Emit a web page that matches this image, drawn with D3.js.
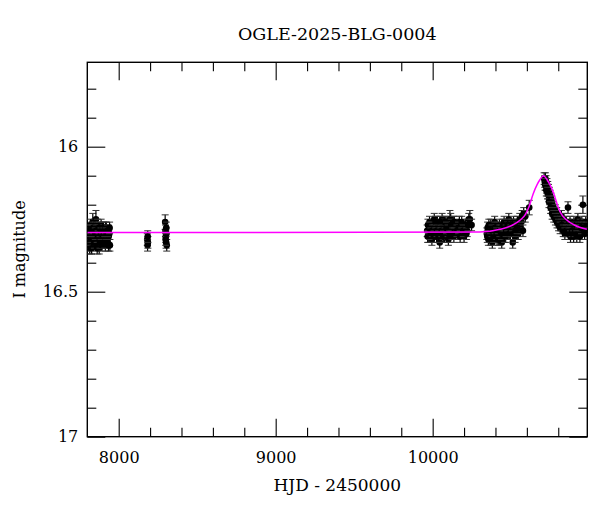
<!DOCTYPE html>
<html>
<head>
<meta charset="utf-8">
<script src="https://cdn.jsdelivr.net/npm/d3@7"></script>
<style>
  body { margin: 0; background: #fff; }
  text { font-family: "DejaVu Serif", serif; fill: #000; }
</style>
</head>
<body>
<div id="chart"></div>
<script>
// Data (HJD - 2450000, I mag, error)
const title = "OGLE-2025-BLG-0004";
const xLabel = "HJD - 2450000";
const yLabel = "I magnitude";
const xDomain = [7800, 10985];
const yDomain = [15.709, 17];
const xMajor = [8000, 9000, 10000];
const yMajor = [16, 16.5, 17];

// season 1
const season1 = [
  [7806,16.31,.02],[7809,16.33,.02],[7812,16.29,.02],[7815,16.35,.02],[7818,16.30,.02],
  [7820,16.27,.02],[7823,16.32,.02],[7826,16.34,.03],[7829,16.28,.02],[7832,16.31,.02],
  [7835,16.26,.03],[7838,16.33,.02],[7841,16.30,.02],[7843,16.29,.02],[7846,16.27,.02],
  [7849,16.32,.02],[7852,16.28,.02],[7855,16.25,.03],[7858,16.34,.02],[7861,16.30,.02],
  [7864,16.27,.02],[7867,16.33,.02],[7870,16.29,.02],[7873,16.31,.02],[7876,16.35,.02],
  [7879,16.28,.02],[7882,16.30,.02],[7885,16.32,.02],[7888,16.27,.02],[7891,16.31,.02],
  [7894,16.29,.02],[7897,16.33,.02],[7900,16.30,.02],[7903,16.28,.02],[7906,16.32,.02],
  [7909,16.29,.02],[7912,16.31,.02],[7915,16.34,.02],[7918,16.30,.02],[7921,16.28,.02],
  [7924,16.32,.02],[7927,16.30,.02],[7930,16.33,.02],[7933,16.29,.02],[7936,16.31,.02],
  [7940,16.30,.02],[7944,16.34,.02],
  [7804,16.29,.02],[7811,16.34,.02],[7817,16.32,.02],[7822,16.29,.02],[7828,16.35,.02],
  [7833,16.29,.02],[7839,16.28,.02],[7845,16.33,.02],[7851,16.30,.02],[7857,16.29,.02],
  [7863,16.35,.02],[7869,16.31,.02],[7875,16.28,.02],[7881,16.33,.02],[7887,16.30,.02],
  [7893,16.34,.02],[7899,16.28,.02],[7905,16.30,.02],[7911,16.33,.02],[7917,16.28,.02],
  [7923,16.30,.02],[7929,16.29,.02],[7935,16.34,.02],[7942,16.28,.02]
];
// two short runs
const season2 = [
  [8182,16.32,.02],[8184,16.34,.02],[8186,16.33,.02],[8185,16.31,.02],
  [8296,16.26,.025],[8298,16.29,.02],[8300,16.31,.02],[8302,16.33,.02],
  [8304,16.30,.02],[8306,16.34,.02],[8303,16.28,.02],[8299,16.32,.02]
];
// season 2022-23
const season3 = [
  [9965,16.29,.02],[9970,16.27,.02],[9975,16.31,.02],[9980,16.26,.02],[9985,16.30,.02],
  [9990,16.28,.02],[9995,16.32,.02],[10000,16.27,.02],[10005,16.29,.02],[10010,16.25,.02],
  [10015,16.30,.02],[10020,16.28,.02],[10025,16.31,.02],[10030,16.26,.02],[10035,16.29,.02],
  [10040,16.27,.02],[10045,16.33,.02],[10050,16.28,.02],[10055,16.30,.02],[10060,16.25,.02],
  [10065,16.29,.02],[10070,16.27,.02],[10075,16.31,.02],[10080,16.28,.02],[10085,16.26,.02],
  [10090,16.30,.02],[10095,16.28,.02],[10100,16.32,.02],[10105,16.27,.02],[10110,16.25,.03],
  [10115,16.25,.02],[10120,16.30,.02],[10125,16.28,.02],[10130,16.26,.02],[10135,16.31,.02],
  [10140,16.28,.02],[10145,16.29,.02],[10150,16.27,.02],[10160,16.30,.02],[10170,16.26,.02],
  [10180,16.29,.02],[10190,16.28,.02],[10200,16.31,.02],[10210,16.27,.02],[10220,16.29,.02],
  [10230,16.25,.02],[10237,16.25,.03],[10248,16.27,.02],
  [9968,16.31,.02],[9978,16.28,.02],[9988,16.30,.02],[9998,16.29,.02],[10008,16.31,.02],
  [10018,16.26,.02],[10028,16.29,.02],[10038,16.31,.02],[10048,16.26,.02],[10058,16.29,.02],
  [10068,16.31,.02],[10078,16.26,.02],[10088,16.28,.02],[10098,16.29,.02],[10108,16.31,.02],
  [10118,16.27,.02],[10128,16.30,.02],[10138,16.26,.02],[10155,16.29,.02],[10165,16.28,.02],
  [10175,16.31,.02],[10185,16.26,.02],[10195,16.29,.02],[10215,16.30,.02],[10225,16.27,.02]
];
// season 2024
const season4 = [
  [10345,16.30,.02],[10350,16.28,.02],[10355,16.32,.02],[10360,16.29,.02],[10365,16.31,.02],
  [10370,16.27,.02],[10375,16.30,.02],[10380,16.33,.02],[10385,16.28,.02],[10390,16.30,.02],
  [10395,16.26,.02],[10400,16.31,.02],[10405,16.29,.02],[10410,16.32,.02],[10415,16.28,.02],
  [10420,16.30,.02],[10425,16.27,.02],[10430,16.31,.02],[10435,16.29,.02],[10440,16.33,.02],
  [10445,16.28,.02],[10450,16.30,.02],[10455,16.26,.02],[10460,16.29,.02],[10465,16.31,.02],
  [10470,16.27,.02],[10475,16.28,.02],[10480,16.30,.02],[10485,16.25,.02],[10490,16.28,.02],
  [10495,16.30,.02],[10500,16.27,.02],[10505,16.29,.02],[10510,16.33,.02],[10515,16.26,.02],
  [10520,16.28,.02],[10525,16.31,.02],[10530,16.27,.02],[10535,16.29,.02],[10540,16.26,.02],
  [10545,16.30,.02],[10550,16.27,.02],[10555,16.25,.02],[10560,16.28,.02],[10565,16.26,.02],
  [10570,16.24,.02],[10575,16.29,.02],[10580,16.23,.02],[10590,16.24,.02],[10615,16.21,.025],
  [10348,16.31,.02],[10358,16.27,.02],[10368,16.32,.02],[10378,16.29,.02],[10388,16.31,.02],
  [10398,16.28,.02],[10408,16.30,.02],[10418,16.32,.02],[10428,16.29,.02],[10438,16.30,.02],
  [10448,16.27,.02],[10458,16.31,.02],[10468,16.29,.02],[10478,16.27,.02],[10488,16.30,.02],
  [10498,16.29,.02],[10508,16.27,.02],[10518,16.30,.02],[10528,16.29,.02],[10538,16.28,.02]
];
// season 2025 (event)
const season5 = [
  [10710,16.11,.02],[10714,16.12,.02],[10718,16.11,.02],[10720,16.13,.02],[10722,16.12,.02],
  [10725,16.14,.02],[10728,16.13,.02],[10730,16.15,.02],[10733,16.14,.02],[10735,16.16,.02],
  [10738,16.15,.02],[10740,16.17,.02],[10743,16.16,.02],[10745,16.18,.02],[10748,16.17,.02],
  [10750,16.19,.02],[10753,16.18,.02],[10755,16.20,.02],[10758,16.19,.02],[10760,16.21,.02],
  [10763,16.20,.02],[10766,16.22,.02],[10770,16.21,.02],[10773,16.23,.02],[10780,16.22,.02],
  [10785,16.24,.02],[10790,16.23,.02],[10795,16.25,.02],[10800,16.24,.02],[10805,16.26,.02],
  [10810,16.25,.02],[10815,16.27,.02],[10820,16.24,.02],[10825,16.26,.02],[10830,16.28,.02],
  [10835,16.25,.02],[10840,16.27,.02],[10845,16.29,.02],[10850,16.26,.02],[10855,16.28,.02],
  [10862,16.21,.02],[10865,16.27,.02],[10870,16.29,.02],[10875,16.26,.02],[10880,16.28,.02],
  [10885,16.30,.02],[10890,16.27,.02],[10895,16.29,.02],[10900,16.26,.02],[10905,16.28,.02],
  [10910,16.30,.02],[10915,16.27,.02],[10920,16.29,.02],[10925,16.25,.02],[10930,16.28,.02],
  [10935,16.30,.02],[10940,16.27,.02],[10945,16.29,.02],[10950,16.26,.02],[10957,16.20,.03],
  [10960,16.28,.02],[10965,16.27,.02],[10970,16.29,.02],[10975,16.26,.02],[10980,16.28,.02],
  [10716,16.13,.02],[10724,16.15,.02],[10732,16.16,.02],[10741,16.19,.02],[10751,16.21,.02],
  [10761,16.23,.02],[10771,16.24,.02],[10782,16.25,.02],[10792,16.26,.02],[10802,16.27,.02],
  [10812,16.28,.02],[10822,16.27,.02],[10832,16.29,.02],[10842,16.30,.02],[10852,16.29,.02],
  [10868,16.30,.02],[10878,16.31,.02],[10888,16.29,.02],[10898,16.31,.02],[10908,16.29,.02],
  [10918,16.31,.02],[10928,16.30,.02],[10938,16.31,.02],[10948,16.28,.02],[10968,16.30,.02]
];
// model curve
const modelHjd = [7800, 10300, 10430, 10510, 10560, 10590, 10615, 10640, 10666, 10683, 10700,
  10706, 10712, 10729, 10746, 10772, 10797, 10822, 10852, 10902, 10982];
const modelMag = [16.296, 16.294, 16.285, 16.270, 16.252, 16.234, 16.205, 16.163, 16.130, 16.114, 16.102,
  16.100, 16.102, 16.114, 16.130, 16.163, 16.205, 16.234, 16.252, 16.270, 16.285];

const W = 600, H = 512;
const margin = {top: 62.3, right: 12.7, bottom: 75.3, left: 87.3};
const w = W - margin.left - margin.right;
const h = H - margin.top - margin.bottom;

const svg = d3.select("#chart").append("svg")
  .attr("width", W).attr("height", H);

svg.append("defs").append("clipPath").attr("id", "clip")
  .append("rect").attr("width", w).attr("height", h);

const g = svg.append("g").attr("transform", `translate(${margin.left},${margin.top})`);

const x = d3.scaleLinear().domain(xDomain).range([0, w]);
const y = d3.scaleLinear().domain(yDomain).range([0, h]);

const xMinor = d3.range(8000, 11000, 200).filter(v => !xMajor.includes(v));
const yMinor = d3.range(15.8, 17, 0.1).map(v => +v.toFixed(1)).filter(v => !yMajor.includes(v));

// ticks on all four sides, pointing in
function ticks(axis, vals, size, label, pad) {
  return axis.tickValues(vals).tickSize(-size).tickPadding(pad)
    .tickFormat(label ? d3.format("") : "");
}
const axes = [
  [d3.axisBottom(x), xMajor, 18, true, 15, `translate(0,${h})`],
  [d3.axisBottom(x), xMinor, 9, false, 0, `translate(0,${h})`],
  [d3.axisTop(x), xMajor, 18, false, 0, null],
  [d3.axisTop(x), xMinor, 9, false, 0, null],
  [d3.axisLeft(y), yMajor, 18, true, 9, null],
  [d3.axisLeft(y), yMinor, 9, false, 0, null],
  [d3.axisRight(y), yMajor, 18, false, 0, `translate(${w},0)`],
  [d3.axisRight(y), yMinor, 9, false, 0, `translate(${w},0)`]
];
for (let [ax, vals, size, label, pad, tr] of axes) {
  const a = g.append("g").call(ticks(ax, vals, size, label, pad));
  if (tr) a.attr("transform", tr);
  a.select(".domain").remove();
  a.selectAll("line").attr("stroke", "#000").attr("stroke-width", 1.1);
  a.selectAll("text").attr("font-family", "DejaVu Serif").attr("font-size", 16).attr("fill", "#000");
}

g.append("rect").attr("width", w).attr("height", h)
  .attr("fill", "none").attr("stroke", "#000").attr("stroke-width", 1.4);

// data points with error bars
const points = [].concat(season1, season2, season3, season4, season5);
const plot = g.append("g").attr("clip-path", "url(#clip)");

const pt = plot.selectAll("g.pt").data(points).enter().append("g").attr("class", "pt");
pt.append("line")
  .attr("x1", d => x(d[0])).attr("x2", d => x(d[0]))
  .attr("y1", d => y(d[1] - d[2])).attr("y2", d => y(d[1] + d[2]))
  .attr("stroke", "#000").attr("stroke-width", 1.2);
for (let s of [-1, 1]) {
  pt.append("line")
    .attr("x1", d => x(d[0]) - 3.5).attr("x2", d => x(d[0]) + 3.5)
    .attr("y1", d => y(d[1] + s * d[2])).attr("y2", d => y(d[1] + s * d[2]))
    .attr("stroke", "#333").attr("stroke-width", 1);
}
pt.append("circle")
  .attr("cx", d => x(d[0])).attr("cy", d => y(d[1])).attr("r", 3.3)
  .attr("fill", "#000");

// model
const model = modelHjd.map((t, i) => [t, modelMag[i]]);
plot.append("path").datum(model)
  .attr("fill", "none").attr("stroke", "#ff00ff").attr("stroke-width", 1.5)
  .attr("d", d3.line().x(d => x(d[0])).y(d => y(d[1])).curve(d3.curveMonotoneX));

// labels
svg.append("text").attr("x", margin.left + w / 2).attr("y", 40)
  .attr("text-anchor", "middle").attr("font-size", 17.5).text(title);
svg.append("text").attr("x", margin.left + w / 2).attr("y", 491)
  .attr("text-anchor", "middle").attr("font-size", 17).text(xLabel);
svg.append("text").attr("transform", `translate(25,${margin.top + h / 2}) rotate(-90)`)
  .attr("text-anchor", "middle").attr("font-size", 16).text(yLabel);
</script>
</body>
</html>
